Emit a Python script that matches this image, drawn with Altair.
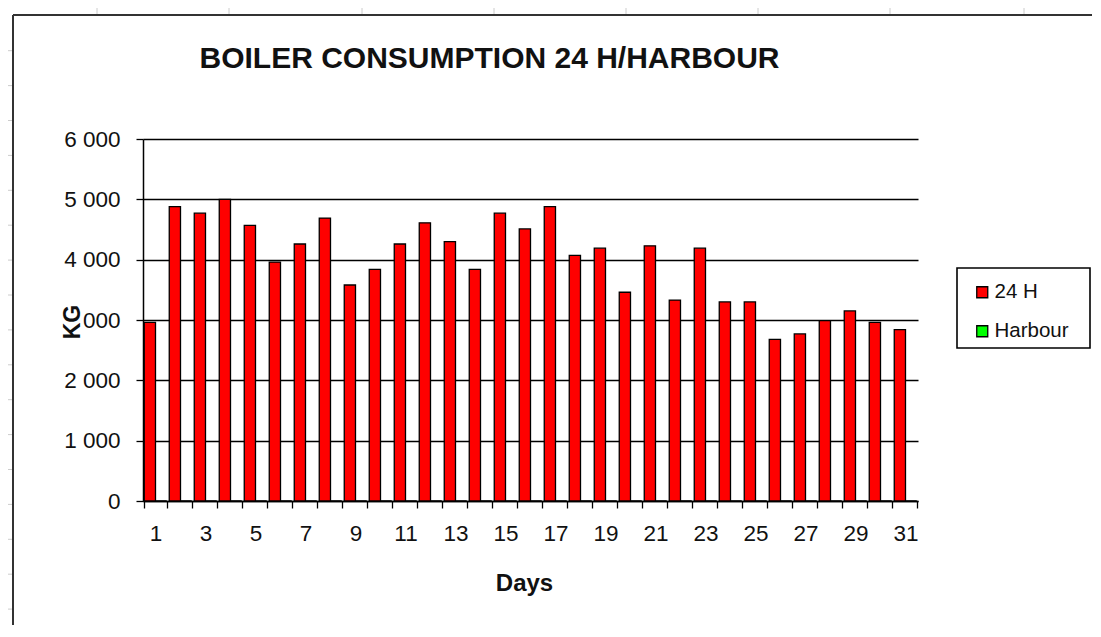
import altair as alt
import pandas as pd

# ---------------- data ----------------
days = [1, 2, 3, 4, 5, 6, 7, 8, 9, 10, 11, 12, 13, 14, 15, 16,
        17, 18, 19, 20, 21, 22, 23, 24, 25, 26, 27, 28, 29, 30, 31]
kg_24h = [2960, 4880, 4770, 5000, 4570, 3960, 4260, 4690, 3580, 3840, 4260,
          4610, 4300, 3840, 4770, 4510, 4880, 4070, 4190, 3460, 4230, 3330,
          4190, 3300, 3300, 2680, 2770, 2990, 3150, 2960, 2840]
kg_harbour = [0, 0, 0, 0, 0, 0, 0, 0, 0, 0, 0, 0, 0, 0, 0, 0,
              0, 0, 0, 0, 0, 0, 0, 0, 0, 0, 0, 0, 0, 0, 0]
series_names = ["24 H", "Harbour"]
series_colors = ["#FF0000", "#00FF00"]
y_ticks = [0, 1000, 2000, 3000, 4000, 5000, 6000]
chart_title = "BOILER CONSUMPTION 24 H/HARBOUR"
x_title = "Days"
y_title = "KG"

# spreadsheet decorations (page pixel positions)
sheet_col_marks = [97, 229, 362, 494, 626, 758, 890, 1024]
sheet_row_marks = [50.7, 85.6, 120.5, 155.4, 190.3, 225.2, 260.1, 295.0, 329.9,
                   364.8, 399.7, 434.6, 469.5, 504.4, 539.3, 574.2, 609.1]

# ---------------- layout ----------------
LEFT, TOP = 143, 139          # page position of the plot origin
PLOT_W, PLOT_H = 775, 362
FONT = "Liberation Sans"

rows = []
for d, a, b in zip(days, kg_24h, kg_harbour):
    rows.append({"day": d, "series": series_names[0], "kg": a})
    rows.append({"day": d, "series": series_names[1], "kg": b})
df = pd.DataFrame(rows)

bars = alt.Chart(df).mark_bar(stroke="black", strokeWidth=1.3).encode(
    x=alt.X(
        "day:O", sort=days,
        scale=alt.Scale(paddingInner=0.1, paddingOuter=0.05),
        axis=alt.Axis(
            title=x_title, labelExpr="datum.value % 2 == 1 ? datum.label : ''",
            labelAngle=0, labelOverlap=False, tickBand="extent", grid=False,
            tickSize=7, tickWidth=1.3, tickColor="black",
            domainColor="black", domainWidth=1.5,
            labelFont=FONT, labelFontSize=22.5, labelColor="#111",
            labelBaseline="alphabetic", labelPadding=32,
            titleFont=FONT, titleFontSize=24, titleFontWeight="bold",
            titleColor="#111", titleX=381, titleY=89, titleAlign="center",
            titleBaseline="alphabetic",
        ),
    ),
    xOffset=alt.XOffset(
        "series:N", sort=series_names,
        scale=alt.Scale(domain=series_names, paddingInner=0, paddingOuter=0),
    ),
    y=alt.Y(
        "kg:Q", scale=alt.Scale(domain=[0, 6000], nice=False),
        axis=alt.Axis(
            title=None, values=y_ticks, grid=True, gridColor="black",
            gridWidth=1.5, gridOpacity=1, domainColor="black", domainWidth=1.5,
            tickColor="black", tickSize=7, tickWidth=1.3,
            labelFont=FONT, labelFontSize=22.5, labelColor="#111",
            labelPadding=16,
            labelExpr="replace(format(datum.value, ','), ',', ' ')",
        ),
    ),
    color=alt.Color(
        "series:N",
        scale=alt.Scale(domain=series_names, range=series_colors),
        legend=alt.Legend(
            title=None, orient="none", legendX=829, legendY=143,
            symbolType="square", symbolSize=121, symbolStrokeColor="black",
            symbolStrokeWidth=1.3, labelFont=FONT, labelFontSize=20.5,
            labelColor="#111", labelOffset=2, rowPadding=18, padding=0,
        ),
    ),
)

# legend frame
legend_box = alt.Chart(pd.DataFrame({"k": [0]})).mark_rect(
    fill="white", stroke="black", strokeWidth=1.6
).encode(
    x=alt.value(957 - LEFT), x2=alt.value(1090 - LEFT),
    y=alt.value(268 - TOP), y2=alt.value(348 - TOP),
)

# chart-area frame (top and left edges)
frame_top = alt.Chart(pd.DataFrame({"k": [0]})).mark_rule(
    color="#333", strokeWidth=2
).encode(x=alt.value(13 - LEFT), x2=alt.value(1101 - LEFT), y=alt.value(15 - TOP))
frame_left = alt.Chart(pd.DataFrame({"k": [0]})).mark_rule(
    color="#333", strokeWidth=2
).encode(x=alt.value(13 - LEFT), y=alt.value(15 - TOP), y2=alt.value(637 - TOP))

# faint spreadsheet cell marks
col_df = pd.DataFrame({"px": [c - LEFT for c in sheet_col_marks]})
row_df = pd.DataFrame({"py": [r - TOP for r in sheet_row_marks]})
col_marks = alt.Chart(col_df).mark_rule(color="#cccccc", strokeWidth=1).encode(
    x=alt.X("px:Q", scale=None, axis=None),
    y=alt.value(8 - TOP), y2=alt.value(15 - TOP),
)
row_marks = alt.Chart(row_df).mark_rule(color="#cccccc", strokeWidth=1).encode(
    y=alt.Y("py:Q", scale=None, axis=None),
    x=alt.value(5 - LEFT), x2=alt.value(13 - LEFT),
)

# y title "KG" sits over the "3" of the 3 000 label, with a white box
kg_box = alt.Chart(pd.DataFrame({"k": [0]})).mark_rect(fill="white").encode(
    x=alt.value(57 - LEFT), x2=alt.value(79 - LEFT),
    y=alt.value(303 - TOP), y2=alt.value(340 - TOP),
)
kg_text = alt.Chart(pd.DataFrame({"t": [y_title]})).mark_text(
    font=FONT, fontSize=23, fontWeight="bold", angle=270, align="center",
    baseline="alphabetic", color="#111",
).encode(x=alt.value(80 - LEFT), y=alt.value(322 - TOP), text="t:N")

title_text = alt.Chart(pd.DataFrame({"t": [chart_title]})).mark_text(
    font=FONT, fontSize=30, fontWeight="bold", align="center",
    baseline="alphabetic", color="#111",
).encode(x=alt.value(489.5 - LEFT), y=alt.value(68 - TOP), text="t:N")

chart = alt.layer(
    col_marks, row_marks, frame_top, frame_left, bars, legend_box,
    kg_box, kg_text, title_text,
).properties(
    width=PLOT_W, height=PLOT_H,
    padding={"left": LEFT - 8, "top": TOP - 8, "right": 174, "bottom": 124},
    autosize=alt.AutoSizeParams(type="none"),
    background="white",
).configure_view(stroke=None)

chart.save("out.html", embed_options={"renderer": "svg", "actions": False})
